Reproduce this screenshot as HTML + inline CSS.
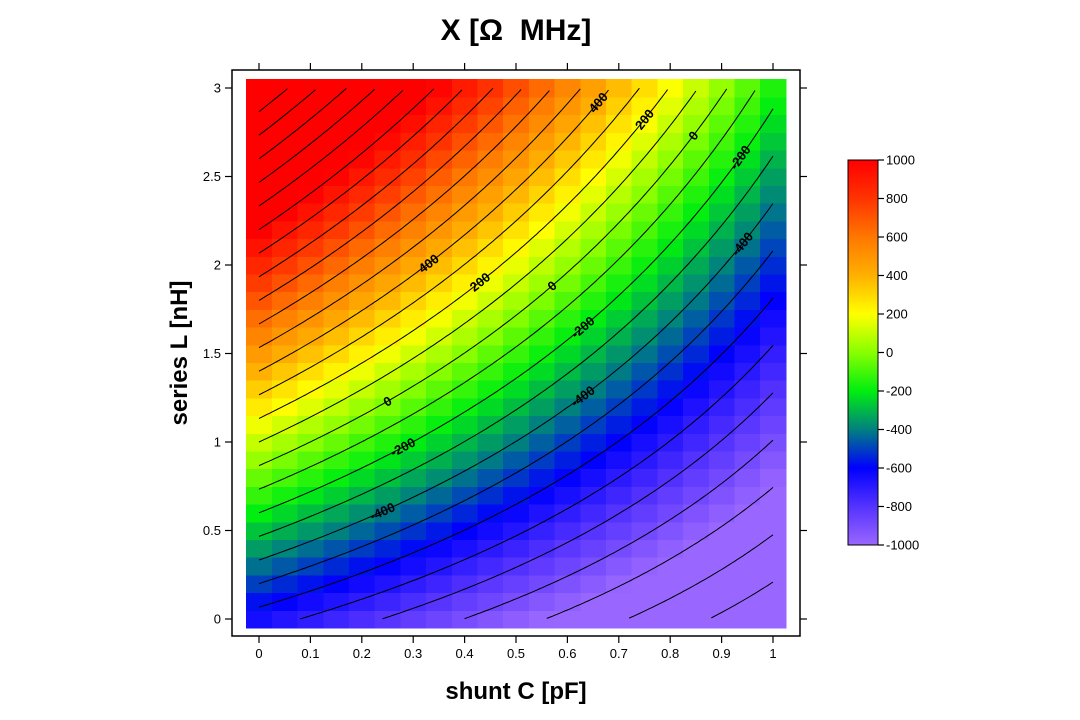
<!DOCTYPE html>
<html><head><meta charset="utf-8"><style>
html,body{margin:0;padding:0;background:#fff;}
svg{display:block;font-family:"Liberation Sans",sans-serif;}
</style></head><body>
<svg id="s" width="1080" height="720" xmlns="http://www.w3.org/2000/svg">
<defs>
<linearGradient id="cb" x1="0" y1="0" x2="0" y2="1">
<stop offset="0" stop-color="#ff0000"/><stop offset="0.1" stop-color="#ff3300"/>
<stop offset="0.2" stop-color="#ff7700"/><stop offset="0.3" stop-color="#ffb000"/>
<stop offset="0.4" stop-color="#ffff00"/><stop offset="0.5" stop-color="#88ff00"/>
<stop offset="0.6" stop-color="#00ee10"/><stop offset="0.7" stop-color="#008080"/>
<stop offset="0.8" stop-color="#0000ff"/><stop offset="0.9" stop-color="#5533ff"/>
<stop offset="1" stop-color="#9966ff"/>
</linearGradient>
</defs>
<g id="cells" shape-rendering="crispEdges"></g>
<g id="cont" fill="none" stroke="#000" stroke-width="1"></g>
<g id="labs" font-size="13" font-weight="bold" fill="#000" text-anchor="middle"></g>
<rect x="232" y="70" width="568" height="566" fill="none" stroke="#000" stroke-width="1.5"/>
<g id="axes" stroke="#000" stroke-width="1.2"></g>
<g id="tl" font-size="13" fill="#000"></g>
<rect x="848" y="160" width="30" height="385" fill="url(#cb)" stroke="#000" stroke-width="1"/>
<text x="516" y="40" font-size="30" font-weight="bold" text-anchor="middle">X [Ω&#160; MHz]</text>
<text x="516" y="699" font-size="24" font-weight="bold" text-anchor="middle">shunt C [pF]</text>
<text transform="translate(187,353) rotate(-90)" font-size="24" font-weight="bold" text-anchor="middle">series L [nH]</text>
</svg>
<script>
var NS="http://www.w3.org/2000/svg";
function el(t,a,p){var e=document.createElementNS(NS,t);for(var k in a)e.setAttribute(k,a[k]);document.getElementById(p).appendChild(e);return e;}
var p=-650,q=750,r=628,s=376;
function X(C,L){return p+q*L-r*C-s*L*C;}
function px(C){return 259+514*C;} function py(L){return 619-177*L;}
var stops=[[1000,[255,0,0]],[800,[255,51,0]],[600,[255,119,0]],[400,[255,176,0]],[200,[255,255,0]],[0,[136,255,0]],[-200,[0,238,16]],[-400,[0,128,128]],[-600,[0,0,255]],[-800,[85,51,255]],[-1000,[153,102,255]]];
function col(v){v=Math.max(-1000,Math.min(1000,v));for(var i=0;i<stops.length-1;i++){var a=stops[i],b=stops[i+1];if(v<=a[0]&&v>=b[0]){var t=(a[0]-v)/(a[0]-b[0]);var c=a[1].map(function(x,k){return Math.round(x+(b[1][k]-x)*t);});return "rgb("+c.join(",")+")";}}return "#000";}
for(var i=0;i<=20;i++)for(var j=0;j<=30;j++){var C=i*0.05,L=j*0.1;var x0=px(C-0.025),y0=py(L+0.05);
el("rect",{x:x0.toFixed(2),y:y0.toFixed(2),width:(25.7+0.6).toFixed(2),height:(17.7+0.6).toFixed(2),fill:col(X(C,L))},"cells");}
for(var lev=-2000;lev<=2000;lev+=100){var pts=[];for(var k=0;k<=200;k++){var C=k/200;var L=(lev-p+r*C)/(q-s*C);if(L>=0&&L<=3)pts.push(px(C).toFixed(1)+","+py(L).toFixed(1));}
if(pts.length>1)el("polyline",{points:pts.join(" ")},"cont");}
var labs=[[400,0.33],[200,0.43],[0,0.57],[-200,0.63],[-400,0.63],[0,0.25],[-200,0.28],[-400,0.24],[400,0.66],[200,0.75],[0,0.845],[-200,0.936],[-400,0.94]];
labs.forEach(function(a){var lev=a[0],C=a[1];var L=(lev-p+r*C)/(q-s*C);var d=0.001;var L2=(lev-p+r*(C+d))/(q-s*(C+d));
var ang=Math.atan2(-(L2-L)*177,d*514)*180/Math.PI;var x=px(C),y=py(L);
var t=el("text",{transform:"translate("+x.toFixed(1)+","+y.toFixed(1)+") rotate("+ang.toFixed(1)+")",y:"4.5"},"labs");t.textContent=lev;});
for(var k=0;k<=10;k++){var x=px(k/10);el("line",{x1:x,y1:636,x2:x,y2:643},"axes");el("line",{x1:x,y1:70,x2:x,y2:63},"axes");
var t=el("text",{x:x,y:658,"text-anchor":"middle"},"tl");t.textContent=(k==0?"0":k==10?"1":(k/10).toString());}
for(var k=0;k<=6;k++){var y=py(k*0.5);el("line",{x1:232,y1:y,x2:225,y2:y},"axes");el("line",{x1:800,y1:y,x2:807,y2:y},"axes");
var t=el("text",{x:221,y:y+4.5,"text-anchor":"end"},"tl");t.textContent=(k*0.5).toString();}
for(var k=0;k<=10;k++){var v=1000-200*k;var y=160+38.5*k;el("line",{x1:878,y1:y,x2:884,y2:y},"axes");
var t=el("text",{x:886,y:y+4.5},"tl");t.textContent=v;}
</script>
</body></html>
